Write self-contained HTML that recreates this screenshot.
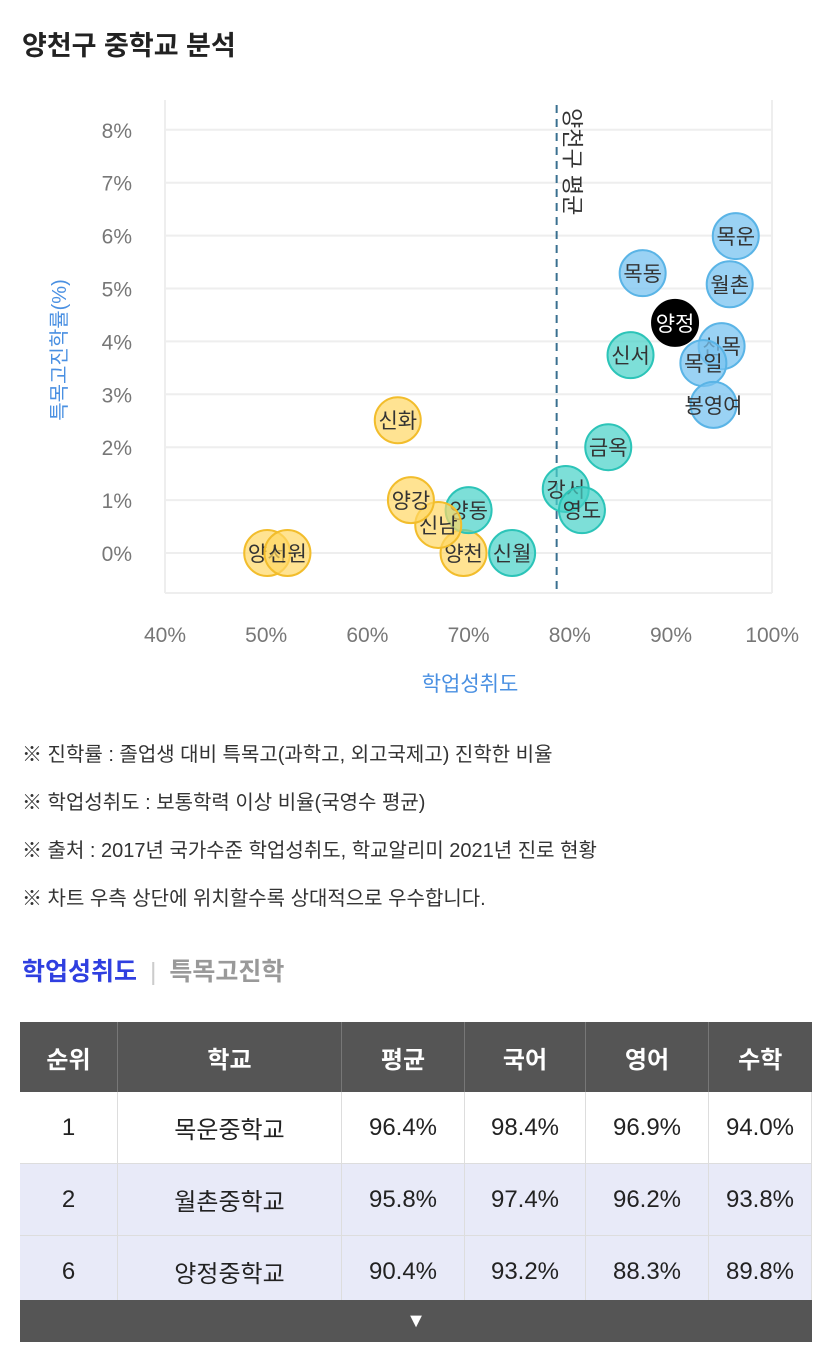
<!DOCTYPE html>
<html><head><meta charset="utf-8"><style>
body{margin:0;width:827px;height:1360px;background:#fff;font-family:"Liberation Sans","Noto Sans CJK KR",sans-serif;color:#222;position:relative;overflow:hidden}
.abs{position:absolute}
table{border-collapse:collapse;position:absolute;left:20px;top:1022px;width:792px;font-size:24px}
th{background:#555;color:#fff;height:68px;font-weight:bold;border-right:1px solid #777}
td{height:69px;text-align:center;border-right:1px solid #ddd;border-bottom:1px solid #ddd}
tr.alt td{background:#e8eaf8}
.note{position:absolute;left:22px;font-size:20px;color:#333}
</style></head><body>
<div class="abs" style="left:22px;top:24px;font-size:27px;font-weight:bold">양천구 중학교 분석</div>
<svg class="abs" style="left:0;top:90px" width="827" height="620">
<g id="grid"></g><g id="axes"></g><g id="marks"></g>
</svg>
<div class="note" style="top:738px">※ 진학률 : 졸업생 대비 특목고(과학고, 외고국제고) 진학한 비율</div>
<div class="note" style="top:786px">※ 학업성취도 : 보통학력 이상 비율(국영수 평균)</div>
<div class="note" style="top:834px">※ 출처 : 2017년 국가수준 학업성취도, 학교알리미 2021년 진로 현황</div>
<div class="note" style="top:882px">※ 차트 우측 상단에 위치할수록 상대적으로 우수합니다.</div>
<div class="abs" style="left:22px;top:952px;font-size:25px;font-weight:bold">
<span style="color:#2f3fe0">학업성취도</span>
<span style="color:#ccc;font-weight:normal;margin:0 6px">|</span>
<span style="color:#999">특목고진학</span></div>
<table>
<tr><th style="width:95px">순위</th><th style="width:221px">학교</th><th style="width:120px">평균</th><th style="width:118px">국어</th><th style="width:120px">영어</th><th style="border-right:none">수학</th></tr>
<tr><td>1</td><td>목운중학교</td><td>96.4%</td><td>98.4%</td><td>96.9%</td><td>94.0%</td></tr>
<tr class="alt"><td>2</td><td>월촌중학교</td><td>95.8%</td><td>97.4%</td><td>96.2%</td><td>93.8%</td></tr>
<tr class="alt"><td>6</td><td>양정중학교</td><td>90.4%</td><td>93.2%</td><td>88.3%</td><td>89.8%</td></tr>
</table>
<div class="abs" style="left:20px;top:1300px;width:792px;height:42px;background:#555;color:#fff;text-align:center;font-size:20px;line-height:42px">▼</div>
<script>
const names=["목운","월촌","목동","양정","신서","신목","목일","봉영여","금옥","강서","영도","신월","양천","양동","신남","양강","신화","양서","신원"];
const achieve=[96.4,95.8,87.2,90.4,86.0,95.0,93.2,94.2,83.8,79.6,81.2,74.3,69.5,70.0,67.0,64.3,63.0,50.1,52.1];
const rate=[5.99,5.08,5.29,4.35,3.74,3.91,3.59,2.80,2.0,1.21,0.81,0,0,0.81,0.53,1.0,2.51,0,0];
const group=["b","b","b","k","t","b","b","b","t","t","t","t","y","t","y","y","y","y","y"];
const xTicks=[40,50,60,70,80,90,100];
const yTicks=[0,1,2,3,4,5,6,7,8];
const avgX=78.7;
const NS="http://www.w3.org/2000/svg";
const X=v=>165+(v-40)*10.12, Y=v=>463-v*52.9;
function mk(t,a,p){const e=document.createElementNS(NS,t);for(const k in a)e.setAttribute(k,a[k]);p.appendChild(e);return e;}
const g=document.getElementById('grid'),ax=document.getElementById('axes'),m=document.getElementById('marks');
yTicks.forEach(v=>{const l=mk('line',{x1:165,x2:772,y1:Y(v),y2:Y(v),stroke:'#eee','stroke-width':2},g);


const t=mk('text',{x:132,y:Y(v)+8,'text-anchor':'end','font-size':21,fill:'#777'},ax);t.textContent=v+'%';

});
mk('line',{x1:165,x2:165,y1:10,y2:503,stroke:'#eee','stroke-width':2},g);
mk('line',{x1:772,x2:772,y1:10,y2:503,stroke:'#eee','stroke-width':2},g);
mk('line',{x1:165,x2:772,y1:503,y2:503,stroke:'#eee','stroke-width':2},g);
xTicks.forEach(v=>{const t=mk('text',{x:X(v),y:552,'text-anchor':'middle','font-size':21,fill:'#777'},ax);t.textContent=v+'%';

});
const xt=mk('text',{x:470,y:601,'text-anchor':'middle','font-size':21,fill:'#4a90e2'},ax);xt.textContent='학업성취도';


const yt=mk('text',{x:0,y:0,'text-anchor':'middle','font-size':20,fill:'#4a90e2',transform:'translate(66,260) rotate(-90)'},ax);yt.textContent='특목고진학률(%)';


const al=mk('line',{x1:X(avgX),x2:X(avgX),y1:15,y2:503,stroke:'#3a7090','stroke-width':2,'stroke-dasharray':'8,6'},g);


const at=mk('text',{x:0,y:0,'font-size':22,fill:'#333',transform:`translate(${X(avgX)+8},18) rotate(90)`},ax);at.textContent='양천구 평균';


const fills={b:['rgba(120,195,240,0.75)','#5ab4e6','#333'],t:['rgba(70,210,200,0.7)','#2cc4b8','#333'],y:['rgba(255,215,100,0.7)','#f2bd2c','#333'],k:['#000','#000','#fff']};
names.forEach((n,i)=>{const c=fills[group[i]];
const ci=mk('circle',{cx:X(achieve[i]),cy:Y(rate[i]),r:23,fill:c[0],stroke:c[1],'stroke-width':2},m);


const t=mk('text',{x:X(achieve[i]),y:Y(rate[i])+8,'text-anchor':'middle','font-size':21,fill:c[2]},m);t.textContent=n;

});
</script>
</body></html>
